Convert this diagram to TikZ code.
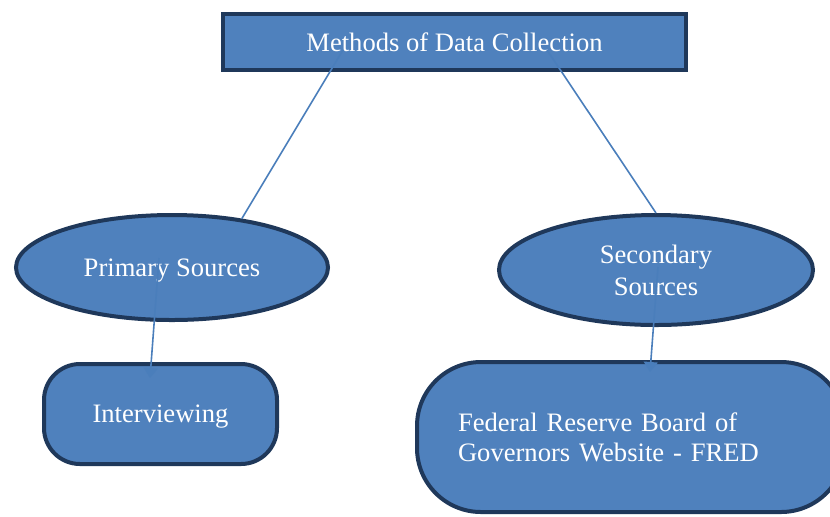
\documentclass[tikz,border=0pt]{standalone}
\usepackage{fontspec}
\setmainfont{Liberation Serif}
\usetikzlibrary{arrows.meta,shapes.geometric}

\definecolor{boxfill}{RGB}{79,129,189}
\definecolor{boxedge}{RGB}{31,56,90}
\definecolor{linkcol}{RGB}{74,126,187}

\begin{document}
\begin{tikzpicture}[x=0.5pt,y=-0.5pt,
  box/.style={draw=boxedge,line width=2pt,fill=boxfill,text=white,
    font=\fontsize{13.3}{15}\selectfont,inner sep=0pt},
  oneline/.style={text depth=0pt},
  oval/.style={box,ellipse,align=center},
  link/.style={linkcol,line width=0.8pt},
  tip/.style={link,-{Triangle[width=7pt,length=5pt]}}]
 \useasboundingbox (0,0) rectangle (830,516); % 全体の大きさ

 \node (meth) at (454.5,42) [box,oneline,minimum width=231.5pt,minimum height=28pt] {Methods of Data Collection}; % 上の四角
 \node (prim) at (172,267.5) [oval,oneline,minimum width=156pt,minimum height=52.5pt] {Primary Sources}; % 左の楕円
 \node (sec) at (656,270) [oval,minimum width=157pt,minimum height=55pt] {Secondary\\[1pt]Sources}; % 右の楕円
 \node (intv) at (160.5,414) [box,oneline,rounded corners=18pt,minimum width=116.5pt,minimum height=50pt] {Interviewing}; % 左下
 \node (fred) at (631,437) [box,rounded corners=32pt,minimum height=75pt,text width=173pt,
   inner xsep=20.5pt,align=left] {Federal Reserve Board of\\Governors Website - FRED}; % 右下

 \coordinate (mL) at (343,50); % 上から左へ
 \coordinate (mR) at (547,50); % 上から右へ
 \coordinate (pA) at (159,258); \coordinate (iA) at (150,378); % 左の矢印
 \coordinate (sA) at (658,267); \coordinate (fA) at (650,372); % 右の矢印

 \draw [link] (mL) -- (prim.35);
 \draw [link] (mR) -- (sec.north);
 \draw [tip] (pA) -- (iA);
 \draw [tip] (sA) -- (fA);
\end{tikzpicture}
\end{document}
